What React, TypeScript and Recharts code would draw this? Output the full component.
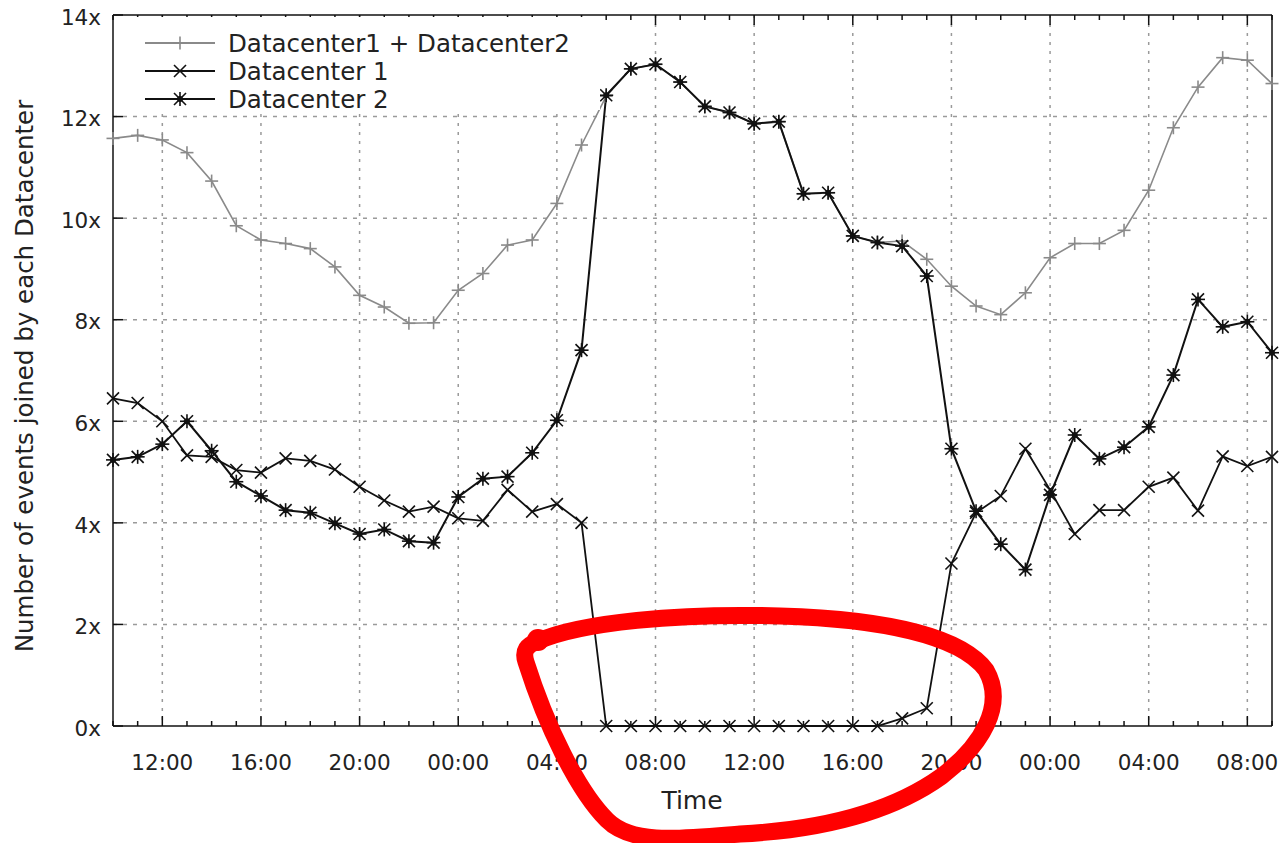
import React from 'react';
import { LineChart, Line, XAxis, YAxis, CartesianGrid } from 'recharts';

// hourly samples, counted in hours from midnight of the first day
const hours = [
  10, 11, 12, 13, 14, 15, 16, 17, 18, 19, 20, 21, 22, 23, 24, 25, 26, 27, 28, 29,
  30, 31, 32, 33, 34, 35, 36, 37, 38, 39, 40, 41, 42, 43, 44, 45, 46, 47, 48, 49,
  50, 51, 52, 53, 54, 55, 56, 57,
];
const majorHours = [12, 16, 20, 24, 28, 32, 36, 40, 44, 48, 52, 56];
const yTicks = [0, 2, 4, 6, 8, 10, 12, 14];
const gridValues = [2, 4, 6, 8, 10, 12];

const seriesNames = ['Datacenter1 + Datacenter2', 'Datacenter 1', 'Datacenter 2'];

const sumValues = [
  11.57, 11.63, 11.54, 11.29, 10.73, 9.85, 9.57, 9.5, 9.4, 9.04, 8.48, 8.25, 7.93, 7.94,
  8.58, 8.91, 9.47, 9.57, 10.29, 11.44, 12.4, 12.94, 13.03, 12.68, 12.2, 12.08, 11.86,
  11.9, 10.48, 10.5, 9.65, 9.52, 9.55, 9.19, 8.66, 8.27, 8.1, 8.53, 9.22, 9.5, 9.5, 9.76,
  10.55, 11.78, 12.58, 13.16, 13.11, 12.65,
];
const dc1Values = [
  6.45, 6.36, 6.0, 5.33, 5.3, 5.04, 4.99, 5.27, 5.22, 5.05, 4.71, 4.44, 4.22, 4.32, 4.09,
  4.04, 4.65, 4.22, 4.37, 4.0, 0, 0, 0, 0, 0, 0, 0, 0, 0, 0, 0, 0, 0.15, 0.35, 3.2, 4.2,
  4.53, 5.46, 4.65, 3.78, 4.25, 4.25, 4.71, 4.89, 4.24, 5.31, 5.12, 5.3,
];
const dc2Values = [
  5.24, 5.3, 5.55, 6.0, 5.42, 4.81, 4.53, 4.25, 4.2, 3.99, 3.78, 3.87, 3.64, 3.61, 4.51,
  4.87, 4.91, 5.38, 6.02, 7.4, 12.42, 12.94, 13.03, 12.68, 12.2, 12.08, 11.86, 11.9,
  10.48, 10.5, 9.65, 9.52, 9.45, 8.86, 5.46, 4.23, 3.58, 3.08, 4.55, 5.73, 5.26, 5.49,
  5.89, 6.91, 8.4, 7.86, 7.96, 7.35,
];

const data = hours.map((h, i) => ({
  h,
  sum: sumValues[i],
  dc1: dc1Values[i],
  dc2: dc2Values[i],
}));

const INK = '#111';
const GREY = '#8a8a8a';
const TEXT = '#222';
const FONT = '"DejaVu Sans", sans-serif';

const fmtHour = (h: number) => `${String(h % 24).padStart(2, '0')}:00`;

type MarkProps = { cx?: number; cy?: number; color: string };

const PlusMark = ({ cx = 0, cy = 0, color }: MarkProps) => (
  <g stroke={color} strokeWidth={1.6}>
    <line x1={cx - 6.5} y1={cy} x2={cx + 6.5} y2={cy} />
    <line x1={cx} y1={cy - 6.5} x2={cx} y2={cy + 6.5} />
  </g>
);

const CrossMark = ({ cx = 0, cy = 0, color }: MarkProps) => (
  <g stroke={color} strokeWidth={1.6}>
    <line x1={cx - 6} y1={cy - 6} x2={cx + 6} y2={cy + 6} />
    <line x1={cx - 6} y1={cy + 6} x2={cx + 6} y2={cy - 6} />
  </g>
);

const StarMark = ({ cx = 0, cy = 0, color }: MarkProps) => (
  <g stroke={color} strokeWidth={1.6}>
    <line x1={cx - 7} y1={cy} x2={cx + 7} y2={cy} />
    <line x1={cx} y1={cy - 7} x2={cx} y2={cy + 7} />
    <line x1={cx - 6} y1={cy - 6} x2={cx + 6} y2={cy + 6} />
    <line x1={cx - 6} y1={cy + 6} x2={cx + 6} y2={cy - 6} />
    <circle cx={cx} cy={cy} r={3} fill={color} stroke="none" />
  </g>
);

// ticks point into the plot, like the original gnuplot frame
const BottomTick = (props: any) => {
  const { x, y, payload } = props;
  const major = majorHours.includes(payload.value);
  return (
    <g>
      <line x1={x} y1={y} x2={x} y2={y - (major ? 10 : 5)} stroke={INK} strokeWidth={1.5} />
      {major && (
        <text x={x} y={y + 44} textAnchor="middle" fontSize={21.5} fill={TEXT} fontFamily={FONT}>
          {fmtHour(payload.value)}
        </text>
      )}
    </g>
  );
};

const TopTick = (props: any) => {
  const { x, y, payload } = props;
  const major = majorHours.includes(payload.value);
  return <line x1={x} y1={y} x2={x} y2={y + (major ? 10 : 5)} stroke={INK} strokeWidth={1.5} />;
};

const LeftTick = (props: any) => {
  const { x, y, payload } = props;
  return (
    <g>
      <line x1={x} y1={y} x2={x + 10} y2={y} stroke={INK} strokeWidth={1.5} />
      <text x={x - 12} y={y} dy="0.45em" textAnchor="end" fontSize={21.5} fill={TEXT} fontFamily={FONT}>
        {`${payload.value}x`}
      </text>
    </g>
  );
};

const RightTick = (props: any) => {
  const { x, y } = props;
  return <line x1={x} y1={y} x2={x - 10} y2={y} stroke={INK} strokeWidth={1.5} />;
};

const legendRows = [
  { name: seriesNames[0], color: GREY, Mark: PlusMark },
  { name: seriesNames[1], color: INK, Mark: CrossMark },
  { name: seriesNames[2], color: INK, Mark: StarMark },
];

const App: React.FC = () => {
  return (
    <div style={{ position: 'absolute', left: 0, top: 0, width: 1288, height: 843, background: '#fff' }}>
      <LineChart width={1288} height={843} data={data} margin={{ top: 0, right: 0, bottom: 57, left: 13 }}>
        <CartesianGrid
          xAxisId="b"
          yAxisId="l"
          vertical={false}
          horizontalValues={gridValues}
          stroke="#9a9a9a"
          strokeWidth={1.5}
          strokeDasharray="4 6"
        />
        <CartesianGrid
          xAxisId="b"
          yAxisId="l"
          horizontal={false}
          verticalValues={majorHours}
          stroke="#9a9a9a"
          strokeWidth={1.5}
          strokeDasharray="3 6"
        />
        <XAxis
          xAxisId="b"
          dataKey="h"
          type="number"
          domain={[10, 57]}
          ticks={hours}
          interval={0}
          height={60}
          tickSize={0}
          tickMargin={0}
          tickLine={false}
          axisLine={{ stroke: INK, strokeWidth: 1.5 }}
          tick={BottomTick}
        />
        <XAxis
          xAxisId="t"
          orientation="top"
          dataKey="h"
          type="number"
          domain={[10, 57]}
          ticks={hours}
          interval={0}
          height={15}
          tickSize={0}
          tickMargin={0}
          tickLine={false}
          axisLine={{ stroke: INK, strokeWidth: 1.5 }}
          tick={TopTick}
        />
        <YAxis
          yAxisId="l"
          domain={[0, 14]}
          ticks={yTicks}
          interval={0}
          width={100}
          tickSize={0}
          tickMargin={0}
          tickLine={false}
          axisLine={{ stroke: INK, strokeWidth: 1.5 }}
          tick={LeftTick}
        />
        <YAxis
          yAxisId="r"
          orientation="right"
          domain={[0, 14]}
          ticks={yTicks}
          interval={0}
          width={16}
          tickSize={0}
          tickMargin={0}
          tickLine={false}
          axisLine={{ stroke: INK, strokeWidth: 1.5 }}
          tick={RightTick}
        />

        <Line
          xAxisId="b"
          yAxisId="l"
          type="linear"
          dataKey="sum"
          name={seriesNames[0]}
          stroke={GREY}
          strokeWidth={1.6}
          dot={(p: any) => <PlusMark key={`s-${p.index}`} cx={p.cx} cy={p.cy} color={GREY} />}
          activeDot={false}
          isAnimationActive={false}
        />
        <Line
          xAxisId="b"
          yAxisId="l"
          type="linear"
          dataKey="dc1"
          name={seriesNames[1]}
          stroke={INK}
          strokeWidth={1.8}
          dot={(p: any) => <CrossMark key={`a-${p.index}`} cx={p.cx} cy={p.cy} color={INK} />}
          activeDot={false}
          isAnimationActive={false}
        />
        <Line
          xAxisId="b"
          yAxisId="l"
          type="linear"
          dataKey="dc2"
          name={seriesNames[2]}
          stroke={INK}
          strokeWidth={2}
          dot={(p: any) => <StarMark key={`b-${p.index}`} cx={p.cx} cy={p.cy} color={INK} />}
          activeDot={false}
          isAnimationActive={false}
        />
      </LineChart>

      {/* key box, axis titles and the red hand-drawn annotation */}
      <svg
        width={1288}
        height={843}
        style={{ position: 'absolute', left: 0, top: 0, pointerEvents: 'none' }}
      >
        <rect x={115} y={17} width={485} height={93} fill="#fff" />
        {legendRows.map((row, i) => {
          const cy = 43 + i * 28;
          return (
            <g key={row.name}>
              <line x1={145} y1={cy} x2={215} y2={cy} stroke={row.color} strokeWidth={1.8} />
              <row.Mark cx={180} cy={cy} color={row.color} />
              <text x={228} y={cy + 8.5} fontSize={24.5} fill={TEXT} fontFamily={FONT}>
                {row.name}
              </text>
            </g>
          );
        })}
        <text
          x={0}
          y={0}
          transform="translate(33 376) rotate(-90)"
          textAnchor="middle"
          fontSize={24.5}
          fill={TEXT}
          fontFamily={FONT}
        >
          Number of events joined by each Datacenter
        </text>
        <text x={692} y={809} textAnchor="middle" fontSize={25} fill={TEXT} fontFamily={FONT}>
          Time
        </text>
        <path
          d="M 536 642 C 580 622, 680 613, 780 616 C 880 619, 960 635, 986 670 C 1006 705, 982 745, 942 776 C 892 812, 820 830, 740 834 C 680 839, 632 845, 607 820 C 577 790, 546 725, 526 662 C 522 650, 528 645, 536 642"
          fill="none"
          stroke="#ff0000"
          strokeWidth={17}
          strokeLinecap="round"
          strokeLinejoin="round"
        />
        <circle cx={538} cy={640} r={11} fill="#ff0000" />
      </svg>
    </div>
  );
};

export default App;
